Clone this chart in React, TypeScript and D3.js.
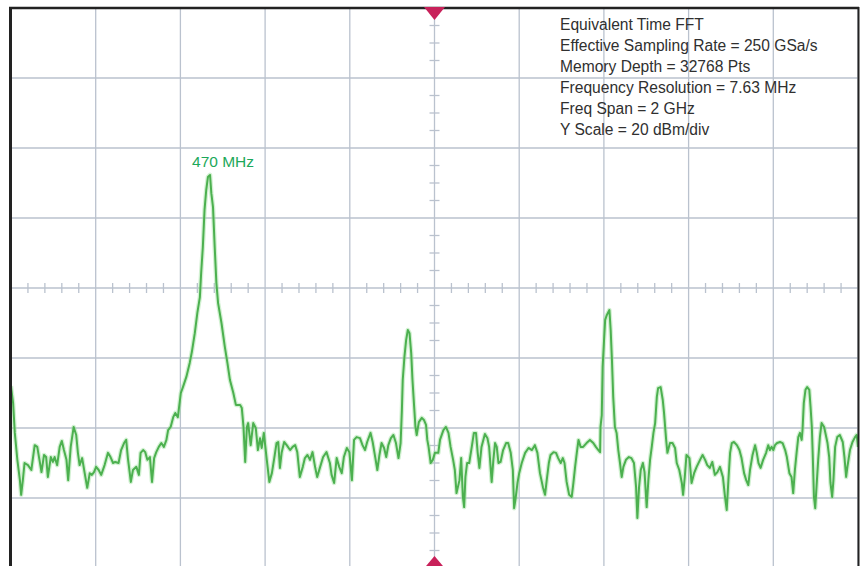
import React, { useEffect, useRef } from "react";
import * as d3 from "d3";

// spectrum trace: [frequency MHz, level dBm]
const trace: [number, number][] = [
  [0,-108],[1,-109.1],[5,-112.9],[9,-121.4],[15,-129.1],[21,-134.9],[24,-139.1],[28,-134.9],[32,-130],[40,-130.6],
  [48,-132],[56,-124.9],[62,-125.4],[68,-129.7],[72,-132.6],[78,-127.7],[83,-128.3],[87,-134],[94,-128.3],[99,-129.7],
  [103,-128.3],[109,-130.6],[115,-125.4],[120,-123.7],[125,-126.3],[131,-129.1],[135,-134.9],[141,-125.4],[148,-119.7],[154,-122],
  [158,-127.1],[162,-130.6],[168,-128.6],[174,-132.9],[180,-137.1],[186,-132.9],[191,-133.4],[196,-132.6],[201,-131.1],[207,-132],
  [213,-133.4],[221,-130.6],[229,-127.1],[235,-128.3],[241,-130],[246,-129.7],[254,-130],[260,-126.3],[267,-124.3],[272,-123.4],
  [276,-128.6],[283,-135.4],[288,-132],[296,-131.1],[302,-133.4],[306,-127.1],[312,-126.3],[317,-126.9],[322,-129.1],[328,-128.3],
  [333,-135.4],[338,-128.6],[343,-126.9],[349,-125.4],[355,-124.3],[361,-125.4],[367,-123.4],[371,-120.6],[377,-119.7],[383,-116.9],
  [388,-115.7],[394,-116.9],[401,-110],[406,-108.3],[414,-105.4],[422,-101.4],[427,-98.3],[434,-92.9],[440,-87.1],[446,-82.6],
  [449,-75.7],[453,-68.3],[457,-57.7],[461,-52],[465,-48.3],[470,-47.7],[473,-52.9],[477,-56.9],[481,-68.3],[485,-78.6],
  [489,-84.3],[497,-90],[505,-96.9],[511,-101.4],[517,-106.3],[525,-110],[531,-113.4],[541,-113.4],[545,-114.3],[549,-119.7],
  [553,-129.7],[557,-119.7],[560,-118.6],[566,-124.9],[572,-118.6],[578,-120],[583,-126.3],[588,-122.9],[592,-125.7],[597,-121.4],
  [604,-129.1],[610,-135.4],[616,-132.9],[622,-128.3],[627,-124.3],[631,-124],[635,-131.4],[639,-127.1],[645,-124],[651,-124.9],
  [659,-126.3],[665,-125.4],[671,-124.9],[676,-126.9],[682,-134],[689,-131.1],[694,-128.6],[700,-127.7],[706,-129.1],[712,-126.9],
  [718,-131.1],[723,-134],[730,-131.1],[737,-128.3],[745,-126.9],[753,-130],[757,-133.4],[763,-135.7],[769,-128.6],[775,-131.1],
  [781,-132.9],[786,-128.3],[793,-125.7],[799,-126.9],[805,-134.9],[810,-123.4],[816,-122.6],[824,-122.9],[830,-124.9],[836,-126.3],
  [841,-124],[849,-121.4],[854,-124],[860,-128.3],[865,-132],[870,-127.7],[875,-124.3],[881,-125.7],[886,-128.3],[891,-124.9],
  [897,-122.9],[903,-122],[909,-124.3],[915,-128.6],[920,-124.3],[923,-114.9],[925,-106.3],[929,-99.7],[933,-94.9],[937,-92],
  [941,-92.9],[945,-98.6],[948,-106.3],[952,-114],[955,-119.7],[958,-122],[963,-118.3],[970,-117.1],[975,-117.7],[980,-119.1],
  [983,-123.4],[986,-125.4],[991,-130],[996,-129.1],[1001,-127.1],[1009,-127.1],[1013,-123.4],[1021,-120.6],[1027,-119.7],[1033,-121.4],
  [1038,-125.4],[1044,-129.1],[1048,-132],[1052,-138.6],[1059,-134.9],[1063,-128.6],[1067,-139.7],[1070,-142.6],[1073,-134],[1077,-130],
  [1082,-130],[1088,-125.4],[1093,-121.4],[1098,-121.4],[1102,-127.1],[1106,-131.4],[1111,-125.4],[1119,-121.7],[1125,-122.9],[1129,-125.4],
  [1135,-135.4],[1139,-129.1],[1143,-124.3],[1147,-125.4],[1151,-130],[1156,-129.7],[1162,-126.3],[1169,-124.3],[1174,-124.3],[1180,-127.1],
  [1185,-132],[1188,-142.9],[1191,-140.6],[1196,-135.7],[1200,-132.9],[1206,-130],[1214,-127.1],[1222,-125.7],[1230,-126.3],[1237,-124.9],
  [1243,-127.1],[1249,-132.9],[1256,-136.9],[1261,-139.1],[1265,-134.9],[1270,-130],[1274,-127.7],[1281,-126.9],[1287,-127.1],[1292,-128.6],
  [1298,-130],[1303,-128.6],[1307,-130],[1312,-135.4],[1318,-139.1],[1324,-139.7],[1328,-135.7],[1332,-131.1],[1336,-127.1],[1340,-123.4],
  [1345,-125.4],[1351,-125.4],[1359,-124.3],[1367,-123.4],[1375,-124.3],[1381,-125.4],[1387,-126.3],[1391,-126.9],[1392,-119.7],[1395,-116.3],
  [1397,-102.6],[1400,-95.7],[1403,-89.1],[1407,-87.7],[1413,-86.3],[1416,-92],[1419,-100.6],[1422,-111.1],[1426,-119.7],[1430,-121.4],
  [1434,-126.3],[1438,-130],[1442,-134],[1446,-131.1],[1452,-129.1],[1459,-128.3],[1465,-128.6],[1471,-130],[1476,-136.9],[1479,-145.7],
  [1483,-136.9],[1487,-132],[1492,-130],[1496,-132.6],[1501,-142.6],[1505,-134.9],[1509,-129.1],[1513,-125.4],[1517,-121.4],[1521,-118.6],
  [1525,-111.1],[1528,-108.6],[1534,-108.3],[1539,-112],[1542,-115.7],[1547,-123.4],[1550,-127.1],[1556,-124.3],[1562,-124.3],[1568,-125.7],
  [1572,-130],[1578,-132],[1584,-135.7],[1587,-139.1],[1591,-134],[1595,-127.7],[1602,-128.6],[1607,-135.7],[1613,-132.9],[1619,-131.1],
  [1627,-129.1],[1633,-127.7],[1639,-129.1],[1644,-130.6],[1650,-131.4],[1656,-129.7],[1662,-133.4],[1668,-132.6],[1674,-131.1],[1681,-134],
  [1686,-139.7],[1690,-143.4],[1694,-134.9],[1698,-127.1],[1702,-124.3],[1707,-124],[1714,-124.9],[1720,-126.3],[1725,-128.6],[1731,-132.9],
  [1736,-134.9],[1741,-136.3],[1745,-132],[1751,-127.7],[1757,-124.9],[1761,-127.1],[1765,-130],[1770,-131.4],[1776,-129.1],[1783,-127.1],
  [1788,-124.9],[1792,-126.3],[1796,-125.4],[1800,-126.3],[1804,-124.9],[1809,-124.3],[1816,-124],[1822,-124.3],[1828,-126.3],[1832,-128.3],
  [1838,-132.9],[1843,-134],[1847,-138.6],[1851,-132],[1855,-127.1],[1859,-122.6],[1863,-121.4],[1867,-123.4],[1869,-120.6],[1872,-112.9],
  [1876,-109.1],[1880,-108.3],[1885,-109.1],[1888,-114],[1891,-119.7],[1893,-127.1],[1896,-139.7],[1899,-142.9],[1902,-136.9],[1906,-129.1],
  [1910,-122.6],[1914,-118.6],[1920,-119.7],[1924,-122],[1928,-124.3],[1932,-128.3],[1935,-135.7],[1939,-139.7],[1942,-134.9],[1946,-125.4],
  [1951,-122.6],[1957,-122],[1964,-124],[1968,-128.3],[1972,-134],[1975,-131.1],[1981,-126.3],[1987,-124],[1993,-122.6],[1997,-122],
  [2000,-125.4]
];

// graticule: 200 MHz/div across, 20 dBm/div down
const freqDivs = [0, 200, 400, 600, 800, 1000, 1200, 1400, 1600, 1800, 2000];
const levelDivs = [0, -20, -40, -60, -80, -100, -120, -140, -160];
const freqCenter = 1000;
const levelCenter = -80;

const infoLines = [
  "Equivalent Time FFT",
  "Effective Sampling Rate = 250 GSa/s",
  "Memory Depth = 32768 Pts",
  "Frequency Resolution = 7.63 MHz",
  "Freq Span = 2 GHz",
  "Y Scale = 20 dBm/div"
];

const peakFreq = 470;
const peakLabel = "470 MHz";

const FONT = "'Liberation Sans Narrow', 'Arial Narrow', 'Liberation Sans', sans-serif";

export default function App() {
  const ref = useRef<SVGSVGElement>(null);

  useEffect(() => {
    const width = 860;
    const height = 566;
    const margin = { left: 11, top: 8, right: 2, bottom: -2 };
    const innerWidth = width - margin.left - margin.right;
    const innerHeight = height - margin.top - margin.bottom;

    const svg = d3.select(ref.current);
    svg.selectAll("*").remove();

    var x = d3.scaleLinear().domain([0, 2000]).range([margin.left, margin.left + innerWidth]);
    var y = d3.scaleLinear().domain([0, -160]).range([margin.top, margin.top + innerHeight]);

    svg.append("rect").attr("width", width).attr("height", height).attr("fill", "#ffffff");

    var grid = svg.append("g").attr("stroke", "#bac2ce").attr("stroke-width", 1.3);
    grid.selectAll("line.v")
      .data(freqDivs)
      .enter()
      .append("line")
      .attr("x1", (d) => x(d)).attr("x2", (d) => x(d))
      .attr("y1", y(0)).attr("y2", y(-160));
    grid.selectAll("line.h")
      .data(levelDivs)
      .enter()
      .append("line")
      .attr("x1", x(0)).attr("x2", x(2000))
      .attr("y1", (d) => y(d)).attr("y2", (d) => y(d));

    // minor ticks on the centre axes (5 per div across, 4 per div down)
    var minorF = d3.range(0, 2000.1, 40).filter((f) => f % 200 !== 0);
    var minorL = d3.range(0, -160.1, -5).filter((l) => l % 20 !== 0);
    grid.selectAll("line.mf")
      .data(minorF)
      .enter()
      .append("line")
      .attr("x1", (d) => x(d)).attr("x2", (d) => x(d))
      .attr("y1", y(levelCenter) - 5).attr("y2", y(levelCenter) + 5);
    grid.selectAll("line.ml")
      .data(minorL)
      .enter()
      .append("line")
      .attr("x1", x(freqCenter) - 5).attr("x2", x(freqCenter) + 5)
      .attr("y1", (d) => y(d)).attr("y2", (d) => y(d));

    // readout text
    svg.append("g")
      .selectAll("text")
      .data(infoLines)
      .enter()
      .append("text")
      .attr("x", 560)
      .attr("y", (d, i) => 29.5 + i * 21.1)
      .attr("font-family", FONT)
      .attr("font-size", 15.6)
      .attr("fill", "#303030")
      .text((d) => d);

    svg.append("clipPath").attr("id", "plot-clip")
      .append("rect")
      .attr("x", margin.left).attr("y", margin.top)
      .attr("width", innerWidth).attr("height", innerHeight);

    var line = d3.line<[number, number]>()
      .x((d) => x(d[0]))
      .y((d) => y(d[1]));

    var traceG = svg.append("g").attr("clip-path", "url(#plot-clip)");
    traceG.append("path")
      .datum(trace)
      .attr("d", line)
      .attr("fill", "none")
      .attr("stroke", "#9be09b")
      .attr("stroke-opacity", 0.45)
      .attr("stroke-width", 4.5)
      .attr("stroke-linejoin", "round");
    traceG.append("path")
      .datum(trace)
      .attr("d", line)
      .attr("fill", "none")
      .attr("stroke", "#4cb04f")
      .attr("stroke-width", 2)
      .attr("stroke-linejoin", "round");

    var peak = trace.find((d) => d[0] === peakFreq);
    svg.append("text")
      .attr("x", x(peakFreq) - 18)
      .attr("y", y(peak ? peak[1] : -48) - 8)
      .attr("font-family", FONT)
      .attr("font-size", 15.5)
      .attr("fill", "#1ca85a")
      .text(peakLabel);

    // frame
    var frame = svg.append("g").attr("stroke", "#222222");
    frame.append("line")
      .attr("x1", margin.left - 0.5).attr("x2", margin.left - 0.5)
      .attr("y1", margin.top - 1).attr("y2", height)
      .attr("stroke-width", 3);
    frame.append("line")
      .attr("x1", margin.left - 2).attr("x2", x(2000) + 1)
      .attr("y1", margin.top).attr("y2", margin.top)
      .attr("stroke-width", 2.5);
    frame.append("line")
      .attr("x1", x(2000) + 0.5).attr("x2", x(2000) + 0.5)
      .attr("y1", margin.top - 1).attr("y2", height)
      .attr("stroke-width", 2);

    // centre markers
    var cx = x(freqCenter);
    svg.append("path")
      .attr("d", `M${cx - 10.5},${margin.top - 1}L${cx + 10.5},${margin.top - 1}L${cx},${margin.top + 12}Z`)
      .attr("fill", "#c8215a");
    svg.append("path")
      .attr("d", `M${cx - 11},${y(-160) + 1}L${cx + 11},${y(-160) + 1}L${cx},${y(-160) - 12}Z`)
      .attr("fill", "#c8215a");
  }, []);

  return (
    <svg
      ref={ref}
      width={860}
      height={566}
      style={{ position: "absolute", left: 0, top: 0, display: "block" }}
    />
  );
}
